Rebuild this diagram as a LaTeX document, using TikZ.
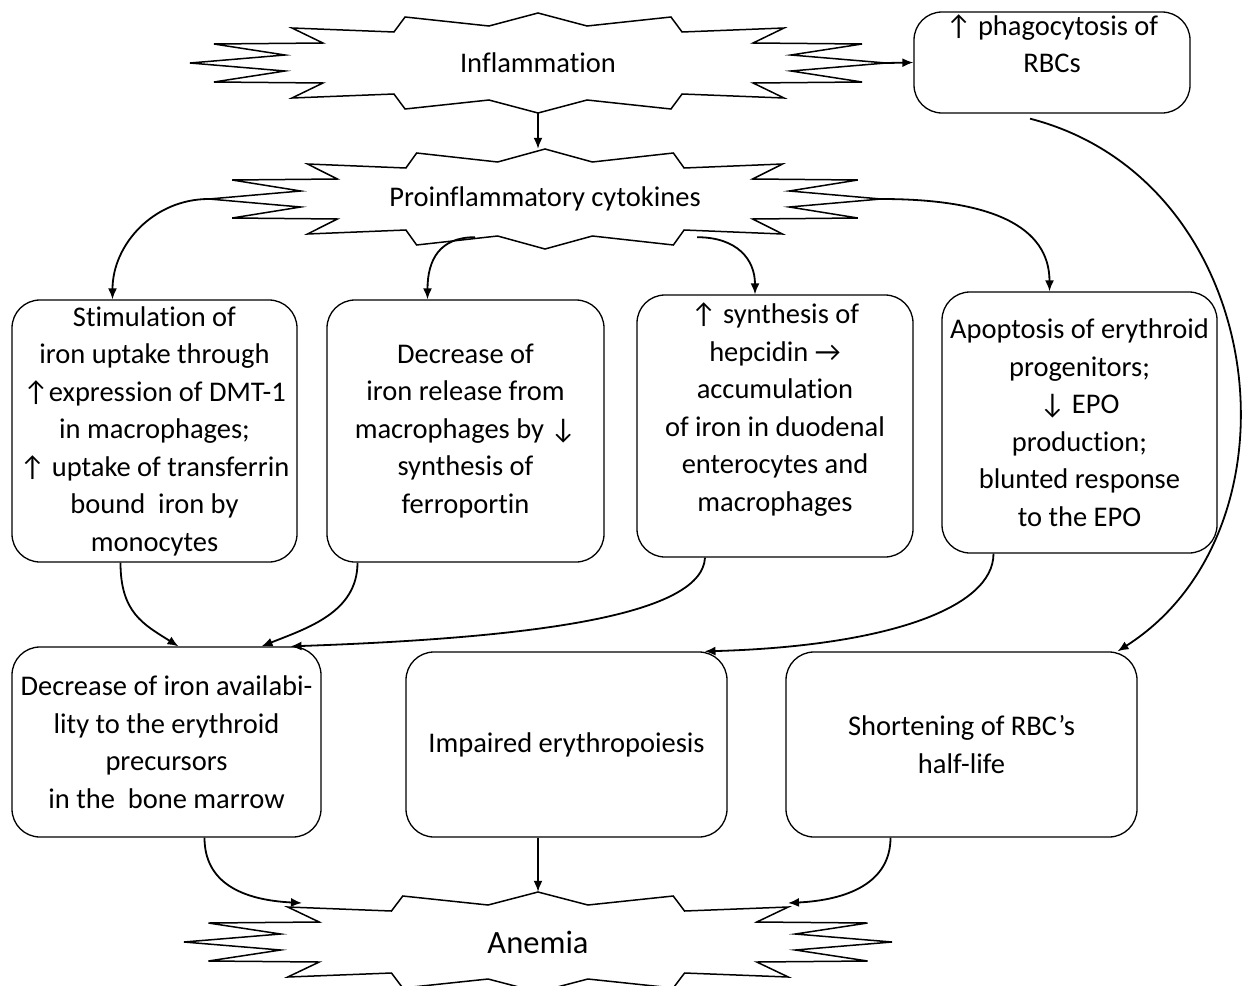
\documentclass[tikz,border=0pt]{standalone}
\usepackage{fontspec}
\setmainfont{Carlito}[RawFeature={-liga;-clig;-calt}]
\usetikzlibrary{arrows.meta}
\newcommand{\boxfont}{\fontsize{28.5}{37.5}\selectfont}
\tikzset{
  roundbox/.style={draw,rounded corners=28pt,line width=1.3pt,align=center,inner sep=2pt,font=\boxfont},
  burstnode/.style={inner sep=0pt,font=\boxfont},
  burst/.style={line width=1.5pt},
  link/.style={->,line width=1.8pt}
}
% star outline round a node: name, half width, half height
\newcommand{\drawburst}[3]{%
  \draw[burst,shift={(#1.center)},xscale=#2,yscale=#3]
    (1,0) -- (0.727,0.16) -- (0.931,0.38) -- (0.618,0.40) -- (0.707,0.70) -- (0.414,0.62)
    -- (0.382,0.92) -- (0.141,0.74) -- (0,1) -- (-0.141,0.74) -- (-0.382,0.92) -- (-0.414,0.62)
    -- (-0.707,0.70) -- (-0.618,0.40) -- (-0.931,0.38) -- (-0.727,0.16) -- (-1,0)
    -- (-0.727,-0.16) -- (-0.931,-0.38) -- (-0.618,-0.40) -- (-0.707,-0.70) -- (-0.414,-0.62)
    -- (-0.382,-0.92) -- (-0.141,-0.74) -- (0,-1) -- (0.141,-0.74) -- (0.382,-0.92) -- (0.414,-0.62)
    -- (0.707,-0.70) -- (0.618,-0.40) -- (0.931,-0.38) -- (0.727,-0.16) -- cycle;}

\begin{document}
\begin{tikzpicture}[x=1pt,y=-1pt,>={Latex[length=11pt,width=9pt]}]
  \useasboundingbox (0,0) rectangle (1247,985);

  % stars
  \node[burstnode,minimum width=696pt,minimum height=100pt] (infl) at (538,63) {Inflammation};
  \drawburst{infl}{348}{50}
  \node[burstnode,minimum width=672pt,minimum height=100pt] (cyto) at (545,199) {Proinflammatory cytokines};
  \drawburst{cyto}{336}{50}
  \node[burstnode,minimum width=708pt,minimum height=100pt,font=\fontsize{32.5}{40}\selectfont] (anemia) at (538,942) {Anemia};
  \drawburst{anemia}{354}{50}

  % boxes
  \node[roundbox,minimum width=276pt,minimum height=101pt] (phago) at (1052,62.5) {↑ phagocytosis of\\RBCs\\\mbox{}};
  \node[roundbox,minimum width=285pt,minimum height=262pt] (stim) at (154.5,431) {Stimulation of\\iron uptake through\\↑expression of DMT-1\\in macrophages;\\↑ uptake of transferrin\\bound\ \ iron by\\monocytes};
  \node[roundbox,minimum width=277pt,minimum height=262pt] (release) at (465.5,431) {Decrease of\\iron release from\\macrophages by ↓\\synthesis of\\ferroportin};
  \node[roundbox,minimum width=276pt,minimum height=262pt] (hepcidin) at (775,426) {↑ synthesis of\\hepcidin →\\accumulation\\of iron in duodenal\\enterocytes and\\macrophages\\\mbox{}};
  \node[roundbox,minimum width=275pt,minimum height=261pt] (apoptosis) at (1079.5,422.5) {Apoptosis of erythroid\\progenitors;\\↓ EPO\\production;\\blunted response\\to the EPO};
  \node[roundbox,minimum width=309pt,minimum height=190pt] (avail) at (166.5,742) {Decrease of iron availabi-\\lity to the erythroid\\precursors\\in the\ \ bone marrow};
  \node[roundbox,minimum width=321pt,minimum height=185pt] (impaired) at (566.5,744.5) {Impaired erythropoiesis};
  \node[roundbox,minimum width=351pt,minimum height=185pt] (shorten) at (961.5,744.5) {Shortening of RBC’s\\half-life};

  % connectors
  \draw[link] (infl.south) -- (infl.south |- cyto.north);
  \draw[link] (infl.east) -- (phago.west);
  \draw[link] ([xshift=-22pt,yshift=-5pt]phago.south) .. controls +(240,62) and +(192,-122) .. ([xshift=156pt]shorten.north);
  \draw[link] (cyto.west) .. controls +(-55,0) and +(0,-55) .. ([xshift=-42pt]stim.north);
  \draw[link] ([shift={(-70pt,12pt)}]cyto.south) .. controls +(-35,0) and +(0,-40) .. ([xshift=-38pt]release.north);
  \draw[link] ([shift={(152pt,12pt)}]cyto.south) .. controls +(40,0) and +(0,-35) .. ([xshift=-20pt]hepcidin.north);
  \draw[link] (cyto.east) .. controls +(110,0) and +(0,-65) .. ([xshift=-30pt]apoptosis.north);
  \draw[link] ([xshift=-34pt]stim.south) .. controls +(0,50) and +(-35,-22) .. ([xshift=12pt]avail.north);
  \draw[link] ([xshift=-108pt]release.south) .. controls +(0,50) and +(45,-18) .. ([xshift=95pt]avail.north);
  \draw[link] ([xshift=-70pt]hepcidin.south) .. controls +(-3,60) and +(230,-8) .. ([xshift=124pt]avail.north);
  \draw[link] ([xshift=-86pt]apoptosis.south) .. controls +(0,55) and +(180,-5) .. ([xshift=138pt]impaired.north);
  \draw[link] ([xshift=38pt]avail.south) .. controls +(0,45) and +(-60,-3) .. ([shift={(-236pt,39pt)}]anemia.center);
  \draw[link] (impaired.south -| anemia.north) -- (anemia.north);
  \draw[link] ([xshift=-71pt]shorten.south) .. controls +(0,45) and +(60,-3) .. ([shift={(250pt,39pt)}]anemia.center);
\end{tikzpicture}
\end{document}
